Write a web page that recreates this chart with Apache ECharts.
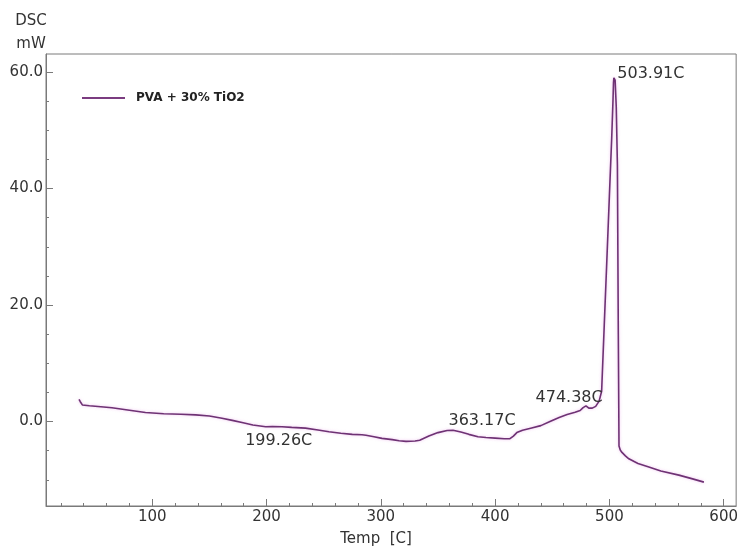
<!DOCTYPE html>
<html>
<head>
<meta charset="utf-8">
<title>DSC — PVA + 30% TiO2</title>
<script src="https://cdn.jsdelivr.net/npm/echarts@6/dist/echarts.min.js"></script>
<style>
  html, body { margin: 0; padding: 0; background: #ffffff; }
  #chart { width: 741px; height: 552px; }
</style>
</head>
<body>
<div id="chart"></div>
<script>
// DSC heat-flow trace (temperature in C, heat flow in mW)
const temps = [35.9, 37.0, 38.8, 45, 55, 64.7, 80, 94, 110, 125, 138, 150, 161, 170, 178.5, 188,
  199.26, 205, 213.5, 222, 234, 245, 254.6, 265, 275, 283.5, 285, 287, 294, 301, 310, 316, 322,
  330, 334, 342, 350, 358, 363.17, 370, 377, 385, 392, 400, 408, 413, 416, 419, 424, 432, 440,
  448, 456, 463, 470, 474.38, 477, 479.5, 482, 485, 488, 491, 493.2, 495.5, 497.5, 500, 502, 503.2,
  503.6, 503.91, 505, 506, 507, 507.8, 508.4, 509.5, 511, 514, 517, 525, 534.5, 545, 560.8, 572, 582.7];
const dsc = [3.8, 3.4, 2.85, 2.7, 2.55, 2.38, 1.95, 1.55, 1.35, 1.25, 1.14, 0.95, 0.56, 0.2, -0.17, -0.6,
  -0.9, -0.85, -0.9, -1.0, -1.13, -1.45, -1.75, -2.0, -2.2, -2.26, -2.1, -2.35, -2.6, -2.89, -3.1, -3.3, -3.4,
  -3.35, -3.2, -2.5, -1.9, -1.55, -1.5, -1.8, -2.2, -2.6, -2.75, -2.85, -2.95, -2.95, -2.5, -1.9, -1.5, -1.1, -0.7,
  0.0, 0.7, 1.2, 1.6, 1.9, 2.4, 2.7, 2.3, 2.3, 2.6, 3.5, 5.2, 16.6, 26.4, 38.8, 48.6, 55.5,
  58.2, 59.0, 58.6, 54, 44, 15, -4.2, -4.9, -5.3, -5.9, -6.4, -7.2, -7.8, -8.5, -9.2, -9.8, -10.4];

// Annotated peak temperatures and their heat-flow values
const peakTemps = [199.26, 363.17, 474.38, 503.91];
const peakDsc = [-0.9, -1.5, 1.9, 59.0];

// Axis tick values
const xTickLabels = [100, 200, 300, 400, 500, 600];
const xMinorTicks = [];
for (let t = 20; t <= 600; t += 20) xMinorTicks.push(t);
const yTickLabels = [0, 20, 40, 60];
const yMinorTicks = [];
for (let v = -10; v <= 60; v += 5) yMinorTicks.push(v);

const seriesName = 'PVA + 30% TiO2';
const FONT = 'DejaVu Sans';
const AXIS_GRAY = '#7a7a7a';
const TEXT = '#333333';

const peakLabelOffsets = [[13, 14], [29, -9], [-11, -13], [37, -4]];

const chart = echarts.init(document.getElementById('chart'), null, { renderer: 'canvas' });

const xRange = { min: 7.0, max: 610.9 };
const yRange = { min: -14.5, max: 63.1 };

chart.setOption({
  animation: false,
  backgroundColor: '#ffffff',
  grid: {
    left: 46, top: 54, right: 2, bottom: 43,
    show: true, borderColor: AXIS_GRAY, borderWidth: 1, containLabel: false
  },
  legend: {
    left: 77, top: 87,
    data: [seriesName],
    icon: 'rect',
    itemWidth: 43, itemHeight: 2,
    textStyle: { fontFamily: FONT, fontSize: 12, fontWeight: 'bold', color: '#222', padding: [0, 0, 0, 6] }
  },
  xAxis: [
    {
      type: 'value', ...xRange,
      name: 'Temp  [C]', nameLocation: 'middle', nameGap: 26,
      nameTextStyle: { fontFamily: FONT, fontSize: 15, color: TEXT, padding: [0, 30, 0, 0] },
      axisLine: { show: true, onZero: false, lineStyle: { color: AXIS_GRAY, width: 1 } },
      axisTick: { show: true, inside: true, length: 3, customValues: xMinorTicks, lineStyle: { color: AXIS_GRAY } },
      axisLabel: { show: true, customValues: xTickLabels, margin: 4, fontFamily: FONT, fontSize: 15, color: TEXT },
      splitLine: { show: false }
    },
    {
      type: 'value', ...xRange, position: 'bottom',
      axisLine: { show: false, onZero: false },
      axisTick: { show: true, inside: true, length: 7, customValues: xTickLabels, lineStyle: { color: AXIS_GRAY } },
      axisLabel: { show: false },
      splitLine: { show: false }
    }
  ],
  yAxis: [
    {
      type: 'value', ...yRange,
      name: 'DSC\nmW', nameLocation: 'end', nameGap: -2,
      nameTextStyle: { fontFamily: FONT, fontSize: 15, color: TEXT, align: 'center', lineHeight: 23, padding: [0, 30, 0, 0] },
      axisLine: { show: true, onZero: false, lineStyle: { color: AXIS_GRAY, width: 1 } },
      axisTick: { show: true, inside: true, length: 3, customValues: yMinorTicks, lineStyle: { color: AXIS_GRAY } },
      axisLabel: {
        show: true, customValues: yTickLabels, margin: 3,
        fontFamily: FONT, fontSize: 15, color: TEXT,
        formatter: v => v.toFixed(1)
      },
      splitLine: { show: false }
    },
    {
      type: 'value', ...yRange, position: 'left',
      axisLine: { show: false, onZero: false },
      axisTick: { show: true, inside: true, length: 7, customValues: yTickLabels, lineStyle: { color: AXIS_GRAY } },
      axisLabel: { show: false },
      splitLine: { show: false }
    }
  ],
  series: [
    {
      name: seriesName,
      type: 'line',
      xAxisIndex: 0, yAxisIndex: 0,
      data: temps.map((t, i) => [t, dsc[i]]),
      showSymbol: false,
      symbol: 'none',
      color: '#7b3c80',
      lineStyle: {
        color: '#6e3274', width: 1.6,
        shadowColor: 'rgba(225, 140, 225, 0.55)', shadowBlur: 3
      },
      markPoint: {
        symbol: 'circle', symbolSize: 0,
        silent: true,
        data: peakTemps.map((t, i) => ({
          coord: [t, peakDsc[i]],
          label: {
            show: true,
            position: 'inside',
            offset: peakLabelOffsets[i],
            formatter: t.toFixed(2) + 'C',
            fontFamily: FONT, fontSize: 16, color: TEXT
          }
        }))
      }
    }
  ]
});
</script>
</body>
</html>
